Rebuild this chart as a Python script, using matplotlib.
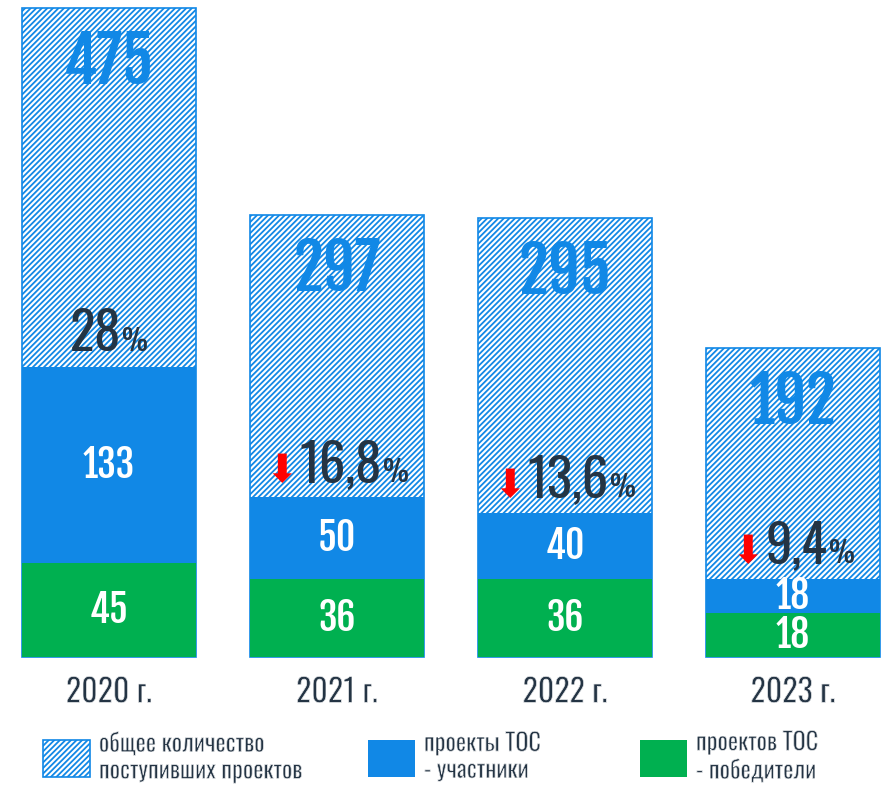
import numpy as np
import matplotlib
matplotlib.use("Agg")
import matplotlib.pyplot as plt
import matplotlib.patheffects as pe
from matplotlib.offsetbox import TextArea, HPacker, AnnotationBbox

# values
years = ["2020 г.", "2021 г.", "2022 г.", "2023 г."]
total = [475, 297, 295, 192]          # общее количество поступивших проектов
participants = [133, 50, 40, 18]      # проекты ТОС - участники
winners = [45, 36, 36, 18]            # проектов ТОС - победители
legend_labels = ["общее количество\nпоступивших проектов",
                 "проекты ТОС\n- участники",
                 "проектов ТОС\n- победители"]

plt.rcParams["font.family"] = ["Oswald", "Roboto Condensed", "DejaVu Sans"]
plt.rcParams["hatch.linewidth"] = 1.3

BLUE = "#1188e6"
GREEN = "#00b050"
DARK = "#243444"
BOLD = ["Fjalla One", "Oswald"]
# white outline on top of the glyphs makes Oswald look like its light cut
thin = [pe.Normal(), pe.Stroke(linewidth=0.5, foreground="white")]

fig = plt.figure(figsize=(8.85, 7.9), dpi=100)
ax = fig.add_axes([0, 133 / 790, 1, 649 / 790])

# the infographic isn't drawn to a linear scale, a soft power scale is closer
p = 0.82
fwd = lambda v: np.power(np.clip(v, 0, None), p)
inv = lambda v: np.power(np.clip(v, 0, None), 1 / p)
ax.set_yscale("function", functions=(fwd, inv))

x = np.arange(len(years))
w = 0.76
tot_bars = ax.bar(x, total, w, color="white", edgecolor=BLUE, hatch="//////", linewidth=1.2, clip_on=False)
blue_bars = ax.bar(x, participants, w, bottom=winners, color=BLUE, linewidth=0)
green_bars = ax.bar(x, winners, w, color=GREEN, linewidth=0)

ax.set_xlim(-109 / 228, (885 - 109) / 228)
ax.set_ylim(0, max(total))
for s in ax.spines.values():
    s.set_visible(False)
ax.set_yticks([])
ax.set_xticks(x, years)
ax.tick_params(axis="x", length=0, pad=14, labelsize=23, labelcolor=DARK)
for t in ax.get_xticklabels():
    t.set_path_effects(thin)

def mid(a, b):
    return float(inv((fwd(a) + fwd(b)) / 2))

pct = [pa / t * 100 for pa, t in zip(participants, total)]
for i in range(len(years)):
    # total number near the top of the hatched bar
    ax.annotate(str(total[i]), (x[i], total[i]), xytext=(0, -39.6), textcoords="offset points",
                ha="center", va="center", fontsize=45, family=BOLD, color=BLUE)
    # values inside the coloured parts
    ax.text(x[i], mid(winners[i], winners[i] + participants[i]), str(participants[i]),
            ha="center", va="center", fontsize=27, family=BOLD, color="white")
    ax.text(x[i], mid(0, winners[i]), str(winners[i]),
            ha="center", va="center", fontsize=27, family=BOLD, color="white")
    # share of participants, with a red arrow when it fell
    s = f"{pct[i]:.1f}".rstrip("0").rstrip(".").replace(".", ",")
    parts = []
    if i > 0 and pct[i] < pct[i - 1]:
        parts.append(TextArea("⬇", textprops=dict(color="red", fontsize=28, family="DejaVu Sans")))
    parts.append(TextArea(s, textprops=dict(color=DARK, fontsize=38)))
    parts.append(TextArea("%", textprops=dict(color=DARK, fontsize=21)))
    box = HPacker(children=parts, align="baseline", pad=0, sep=1)
    ab = AnnotationBbox(box, (x[i], winners[i] + participants[i]), xybox=(0, 4),
                        xycoords="data", boxcoords="offset points",
                        box_alignment=(0.5, 0), frameon=False, pad=0)
    ax.add_artist(ab)

# legend, one block per series
handles = [tot_bars, blue_bars, green_bars]
anchors = [43 / 885, 368 / 885, 640 / 885]
for h, lab, a in zip(handles, legend_labels, anchors):
    leg = fig.legend([h], [lab], loc="center left", bbox_to_anchor=(a, 1 - 757 / 790),
                     frameon=False, fontsize=17.5, handlelength=1.95, handleheight=1.95,
                     handletextpad=0.35, borderpad=0, borderaxespad=0, labelcolor=DARK)
    for t in leg.get_texts():
        t.set_path_effects(thin)

fig.savefig("out.png", dpi=100)
